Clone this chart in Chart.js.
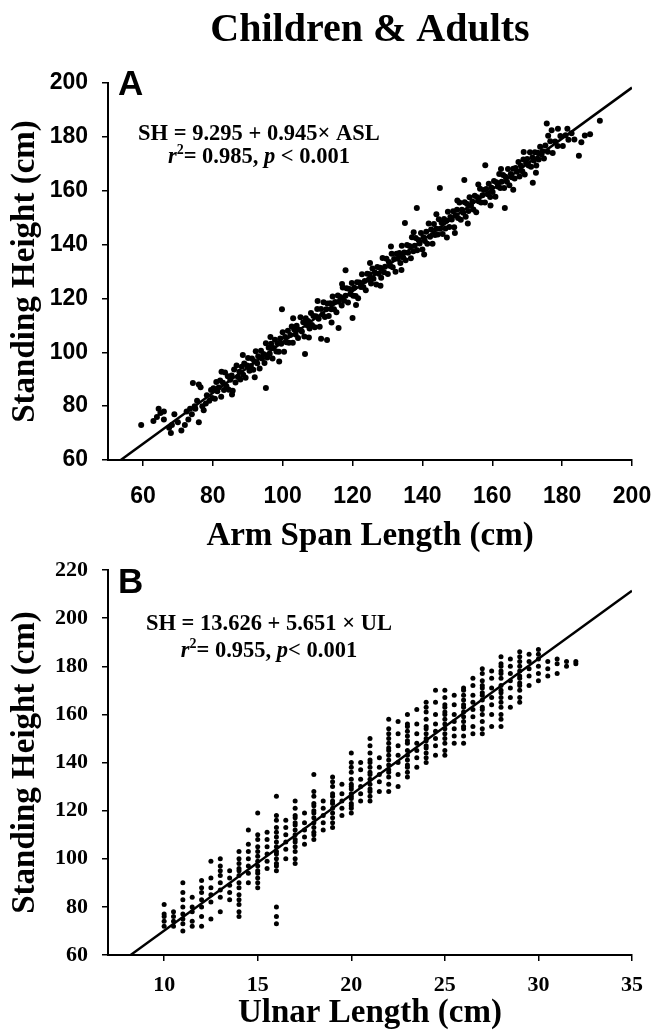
<!DOCTYPE html>
<html>
<head>
<meta charset="utf-8">
<script src="https://cdn.jsdelivr.net/npm/chart.js@4.4.1/dist/chart.umd.min.js"></script>
<style>
  body { margin: 0; background: #fff; }
  canvas { display: block; }
</style>
</head>
<body>
<canvas id="panelA" width="656" height="556"></canvas>
<canvas id="panelB" width="656" height="480"></canvas>
<script>
// Panel A: arm span length (cm), standing height (cm)
const armSpanHeight = [
  // shortest children
  [59.5,73],[63,74.5],[64,76],[64.5,79],[65,77.5],[66,78],[66,75],[67.5,72],[68,70],[68.3,73],
  [69,77],[70,74],[71,71],[72,73],[72.5,78],[73,75],[73.5,79],[74,77],[74.3,88.6],[74.8,80],
  [75,79],[75.5,82],[76,74],[76,88],[76.5,87],[77,80],[77.4,78.5],[78,81],[78.3,84],[79,82],
  [79.5,86],[79.8,83],
  // main band
  [80.2,86.6],[80.6,82.7],[81.0,89.0],[81.3,85.5],[81.7,86.9],[82.1,89.5],[82.4,83.5],[82.9,88.7],
  [83.2,86.0],[83.5,92.5],[83.9,87.4],[84.3,91.1],[84.6,86.1],[85.0,89.8],[85.4,91.4],[85.7,85.7],
  [86.1,93.6],[86.5,88.8],[86.8,95.1],[87.2,90.8],[87.6,92.8],[87.9,89.9],[88.3,94.6],[88.7,91.7],
  [89.0,95.8],[89.4,90.5],[89.8,95.1],[90.1,97.9],[90.5,93.1],[90.9,94.9],
  [91.2,97.7],[91.6,93.5],[91.9,96.7],[92.3,100.4],[92.7,95.9],[93.0,98.5],[93.4,94.0],[93.8,100.6],
  [94.1,97.7],[94.5,99.4],[94.8,96.0],[95.2,103.4],[95.6,98.1],[96.0,101.7],[96.3,99.5],[96.7,103.2],
  [97.1,97.7],[97.4,101.6],[97.8,104.7],[98.2,100.3],[98.5,103.4],[98.9,100.2],[99.3,105.1],[99.6,103.2],
  [100.0,107.4],[100.4,100.2],[100.7,105.7],[101.1,103.7],[101.5,108.0],[101.8,103.5],
  [102.2,106.4],[102.6,109.6],[102.9,103.5],[103.3,108.5],[103.7,106.6],[104.0,109.9],[104.4,105.3],
  [104.8,108.4],[105.1,113.0],[105.5,107.7],[105.9,111.2],[106.2,105.9],[106.6,112.6],[107.0,110.0],
  [107.3,111.6],[107.7,108.8],[108.1,114.6],[108.4,110.1],[108.8,113.5],[109.2,109.3],[109.5,113.4],
  [109.9,116.1],[110.3,112.5],[110.6,109.5],[111.0,116.1],[111.4,114.0],[111.7,118.6],[112.1,113.1],
  [112.5,116.0],[112.8,118.1],
  [113.2,113.5],[113.6,118.2],[113.9,116.0],[114.3,120.7],[114.7,116.0],[115.0,118.7],[115.4,114.9],
  [115.8,121.1],[116.1,118.8],[116.5,120.5],[116.9,117.4],[117.2,124.1],[117.6,119.1],[118.0,121.0],
  [118.3,123.8],[118.7,118.5],[119.1,123.5],[119.4,121.6],[119.8,125.7],[120.2,121.0],[120.5,124.0],
  [120.9,120.9],[121.3,126.0],[121.6,120.1],[122.0,125.9],[122.4,124.2],[122.7,129.0],[123.1,124.2],
  [123.5,126.5],[123.8,123.0],
  [124.2,129.2],[124.6,126.9],[124.9,129.0],[125.3,125.5],[125.7,131.1],[126.0,127.3],[126.4,129.6],
  [126.8,125.2],[127.1,131.7],[127.5,129.2],[127.9,131.4],[128.2,127.7],[128.6,135.0],[129.0,129.7],
  [129.3,131.8],[129.7,134.7],[130.1,129.1],[130.4,133.5],[130.8,132.0],[131.2,136.6],[131.5,131.6],
  [131.9,134.6],[132.3,129.9],[132.6,136.6],[133.0,134.7],[133.4,136.9],[133.7,133.2],[134.1,139.6],
  [134.5,135.2],[134.8,137.1],
  [135.2,134.2],[135.6,139.8],[135.9,137.0],[136.3,139.5],[136.7,134.9],[137.0,142.7],[137.4,137.5],
  [137.8,139.6],[138.1,142.4],[138.5,137.9],[138.9,141.7],[139.2,140.4],[139.6,144.3],[140.0,138.2],
  [140.3,142.7],[140.7,141.3],[141.1,144.8],[141.4,140.3],[141.8,147.8],[142.2,142.9],[142.5,145.6],
  [142.9,140.3],[143.3,147.6],[143.6,143.6],[144.0,145.9],[144.4,143.7],[144.7,149.4],[145.1,145.9],
  [145.5,148.1],[145.8,143.9],
  [146.2,149.5],[146.6,146.0],[146.9,148.8],[147.3,152.2],[147.7,146.5],[148.0,150.2],[148.4,149.3],
  [148.8,152.4],[149.1,146.4],[149.5,150.9],[149.9,152.9],[150.2,149.9],[150.6,155.6],[151.0,149.2],
  [151.3,152.9],[151.7,151.8],[152.1,155.7],[152.4,150.3],[152.8,155.1],[153.2,152.5],[153.5,157.6],
  [153.9,154.4],[154.3,156.0],[154.6,153.0],[155.0,158.1],[155.4,152.0],[155.7,157.6],[156.1,156.1],
  [156.5,160.7],[156.8,155.6],
  [157.2,158.3],[157.6,160.3],[157.9,155.6],[158.3,160.6],[158.7,158.7],[159.0,162.6],[159.4,157.7],
  [159.8,161.1],[160.1,159.5],[160.5,163.6],[160.9,157.8],[161.2,163.1],[161.6,161.6],[162.0,166.2],
  [162.3,161.0],[162.7,163.3],[163.1,165.8],[163.4,161.0],[163.8,165.2],[164.2,163.3],[164.5,168.1],
  [164.9,162.0],[165.3,166.2],[165.6,165.0],[166.0,168.2],[166.4,164.5],[166.7,168.4],[167.1,167.0],
  [167.5,170.7],[167.8,165.3],
  [168.2,169.3],[168.6,167.2],[168.9,171.6],[169.3,166.0],[169.7,170.2],[170.0,171.8],[170.4,169.4],
  [170.8,174.3],[171.1,168.9],[171.5,172.3],[171.9,171.2],[172.2,174.3],[172.6,169.4],[173.0,174.1],
  [173.3,171.6],[173.7,176.3],[174.1,173.5],[174.4,174.7],[174.8,172.0],[175.2,176.8],[175.9,174.5],
  [176.6,178.4],[177.3,174.0],[178.0,178.3],[178.7,176.6],[179.5,180.3],[180.2,176.6],[181.0,180.6],
  [181.8,178.9],[182.7,181.3],
  // wider scatter
  [82.5,92.8],[85.5,84.3],[88.6,99.0],[92.0,90.7],[96.5,105.7],[99.0,96.6],[103.0,112.6],[107.5,105.5],
  [110.0,119.0],[114.0,111.1],[117.0,125.4],[121.0,117.6],[125.0,133.2],[128.0,124.7],[131.0,139.3],
  [134.0,130.6],[137.5,144.6],[140.5,136.3],[144.0,151.3],[147.0,142.6],[150.0,156.4],[153.0,147.8],
  [156.0,162.3],[159.5,154.5],[162.5,168.1],[166.0,160.4],[169.0,174.4],[172.5,166.7],[176.0,180.4],
  // outliers and tallest adults
  [95.2,86.7],[99.8,116],[106.4,99.4],[111,105],[112.7,104.6],[116,109],[118,130.5],[120,112.7],
  [135,148],[138.4,153.6],[145,161],[149.3,144.3],[152,164],[158,169.5],[163.6,153.6],[171.6,163],
  [175.6,185],[178.8,183],[184.8,173],[183.5,179],[185.5,178],[186.5,180.5],[188,181],[190.8,186],
  [181.5,183],[177,182.5]
];

// Panel B: ulnar length (cm) columns and the standing heights (cm) measured at each
const ulnarLength = [10,10.5,11,11.5,12,12.5,13,13.5,14,14.5,15,15.5,16,16.5,17,17.5,18,18.5,19,19.5,
  20,20.5,21,21.5,22,22.5,23,23.5,24,24.5,25,25.5,26,26.5,27,27.5,28,28.5,29,29.5,30,30.5,31,31.5,32];
const heightsB = [
  [72,74,76,77,81],
  [72,74,76,78],
  [70,73,75,77,80,83,86,90],
  [72,74,78,80,84],
  [72,76,80,83,86,88,91],
  [75,82,85,88,92,99],
  [78,84,87,90,93,95,97,100],
  [83,86,89,92,95],
  [76,78,81,83,85,88,90,93,95,96,98,100,103],
  [90,94,97,100,103,106,112],
  [88,90,92,94,95,97,99,101,103,105,108,110,119],
  [96,99,102,105,108,111],
  [73,76,80,95,97,98,100,102,103,105,107,109,111,113,116,118,126],
  [100,104,107,110,113,116],
  [98,100,103,105,107,108,110,112,114,115,117,118,121,124],
  [106,109,112,115,119],
  [108,110,111,113,115,117,119,120,122,123,126,128,135],
  [112,115,118,121,124],
  [113,115,117,119,121,123,124,126,127,130,132,134],
  [118,121,124,127,131],
  [119,121,122,123,125,126,127,129,130,131,133,136,138,140,144],
  [124,127,130,133,137,140],
  [124,126,128,129,131,133,135,136,138,140,141,144,147,150],
  [128,132,135,138,142],
  [128,131,134,136,137,139,141,143,145,146,148,150,152,154,158],
  [130,135,140,143,147,152,157],
  [134,136,138,139,141,143,145,148,149,151,153,155,156,160],
  [138,142,145,148,152,156,162],
  [140,142,144,146,147,149,150,152,154,155,158,161,163,165],
  [143,147,150,153,156,160,165,170],
  [143,145,148,150,152,154,156,158,160,161,163,164,167,170],
  [148,151,154,157,160,164,168],
  [148,151,154,155,157,159,161,163,164,166,168,170,171],
  [152,155,159,162,165,168,172,175],
  [152,154,157,160,162,163,166,168,169,171,172,174,177,179],
  [155,160,164,167,171,175,178],
  [155,158,160,163,165,167,169,170,172,175,177,178,180,181,184],
  [163,167,171,174,177,180,183],
  [165,167,170,172,173,175,176,178,180,182,184,186],
  [172,176,179,182,185],
  [174,177,180,183,185,187],
  [176,179,182],
  [177,181,183],
  [180,182],
  [181,182]
];

// tick labels
const ticksAx = [60, 80, 100, 120, 140, 160, 180, 200];
const ticksBx = [10, 15, 20, 25, 30, 35];

// regression lines as printed on the figure
const fitA = { intercept: 9.295, slope: 0.945, from: 53.66, to: 200 };
const fitB = { intercept: 13.626, slope: 5.651, from: 8.21, to: 35 };

const serif = 'Liberation Serif';
const sans = 'Liberation Sans';

function lineData(f) {
  return [f.from, f.to].map(x => ({ x: x, y: f.intercept + f.slope * x }));
}

function drawRuns(ctx, runs, cx, cy, size) {
  const fontFor = r => (r.i ? 'italic ' : '') + 'bold ' + (r.sup ? Math.round(size * 0.6) : size) + 'px "' + serif + '"';
  let w = 0;
  runs.forEach(r => { ctx.font = fontFor(r); w += ctx.measureText(r.t).width; });
  let x = cx - w / 2;
  ctx.textAlign = 'left';
  ctx.textBaseline = 'middle';
  runs.forEach(r => {
    ctx.font = fontFor(r);
    ctx.fillText(r.t, x, r.sup ? cy - size * 0.3 : cy);
    x += ctx.measureText(r.t).width;
  });
}

// draws panel letter, equation and (for A) the figure title
const annotations = {
  id: 'annotations',
  afterDraw(chart, args, opts) {
    const ctx = chart.ctx, xs = chart.scales.x, ys = chart.scales.y, area = chart.chartArea;
    ctx.save();
    ctx.fillStyle = '#000';
    if (opts.title) {
      ctx.font = 'bold 40px "' + serif + '"';
      ctx.textAlign = 'center';
      ctx.textBaseline = 'alphabetic';
      ctx.fillText(opts.title, (area.left + area.right) / 2, 41);
    }
    ctx.font = 'bold 35px "' + sans + '"';
    ctx.textAlign = 'left';
    ctx.textBaseline = 'alphabetic';
    ctx.fillText(opts.letter, area.left + 10, area.top + opts.letterDy);
    opts.lines.forEach(l => {
      drawRuns(ctx, l.runs, xs.getPixelForValue(l.x), ys.getPixelForValue(l.y), opts.size);
    });
    ctx.restore();
  }
};

function panel(id, cfg) {
  new Chart(document.getElementById(id), {
    type: 'scatter',
    data: {
      datasets: [{
        data: cfg.points,
        backgroundColor: '#000',
        borderColor: '#000',
        pointRadius: cfg.dot,
        pointBorderWidth: 0
      }, {
        type: 'line',
        data: cfg.fit,
        borderColor: '#000',
        borderWidth: 2.5,
        pointRadius: 0,
        fill: false
      }]
    },
    options: {
      responsive: false,
      animation: false,
      layout: { padding: { top: cfg.padTop, right: 24, left: 0, bottom: 0 } },
      plugins: {
        legend: { display: false },
        tooltip: { enabled: false },
        annotations: cfg.notes
      },
      scales: {
        x: {
          type: 'linear',
          min: cfg.xMin,
          max: cfg.xMax,
          afterBuildTicks: s => { s.ticks = cfg.xTicks.map(v => ({ value: v })); },
          afterFit: s => { s.height = cfg.xAxisH; s.paddingLeft = 0; s.paddingRight = 0; },
          grid: { drawOnChartArea: false, drawTicks: true, tickLength: 6, color: '#000', lineWidth: 1.5 },
          border: { display: true, color: '#000', width: 2 },
          ticks: { color: '#000', padding: cfg.xTickPad, maxRotation: 0, font: { family: cfg.tickFont, weight: 'bold', size: cfg.tickSize } },
          title: { display: true, text: cfg.xTitle, color: '#000', padding: { top: 0, bottom: cfg.xTitlePad }, font: { family: serif, weight: 'bold', size: 33 } }
        },
        y: {
          min: cfg.yMin,
          max: cfg.yMax,
          afterFit: s => { s.width = 108; s.paddingTop = 0; s.paddingBottom = 0; },
          grid: { drawOnChartArea: false, drawTicks: true, tickLength: 6, color: '#000', lineWidth: 1.5 },
          border: { display: true, color: '#000', width: 2 },
          ticks: { stepSize: 20, color: '#000', padding: 14, font: { family: cfg.tickFont, weight: 'bold', size: cfg.tickSize } },
          title: { display: true, text: 'Standing Height (cm)', color: '#000', padding: { top: 6, bottom: 0 }, font: { family: serif, weight: 'bold', size: 33 } }
        }
      }
    },
    plugins: [annotations]
  });
}

panel('panelA', {
  points: armSpanHeight.map(p => ({ x: p[0], y: p[1] })),
  fit: lineData(fitA), dot: 3,
  padTop: 83, xMin: 50, xMax: 200, yMin: 60, yMax: 200,
  xTicks: ticksAx, xAxisH: 96, xTickPad: 17, xTitlePad: 0,
  tickFont: sans, tickSize: 23, xTitle: 'Arm Span Length (cm)',
  notes: {
    title: 'Children & Adults', letter: 'A', letterDy: 12, size: 22.5,
    lines: [
      { x: 93.2, y: 181, runs: [{ t: 'SH = 9.295 + 0.945× ASL' }] },
      { x: 93.2, y: 172.5, runs: [{ t: 'r', i: true }, { t: '2', sup: true }, { t: '= 0.985, ' }, { t: 'p', i: true }, { t: ' < 0.001' }] }
    ]
  }
});

const ulnarPoints = [];
ulnarLength.forEach((u, i) => heightsB[i].forEach(h => ulnarPoints.push({ x: u, y: h })));

panel('panelB', {
  points: ulnarPoints,
  fit: lineData(fitB), dot: 2.5,
  padTop: 14, xMin: 7, xMax: 35, yMin: 60, yMax: 220,
  xTicks: ticksBx, xAxisH: 81, xTickPad: 11, xTitlePad: 3,
  tickFont: serif, tickSize: 22, xTitle: 'Ulnar Length (cm)',
  notes: {
    letter: 'B', letterDy: 23, size: 22.5,
    lines: [
      { x: 15.6, y: 197.6, runs: [{ t: 'SH = 13.626 + 5.651 × UL' }] },
      { x: 15.6, y: 186.4, runs: [{ t: 'r', i: true }, { t: '2', sup: true }, { t: '= 0.955, ' }, { t: 'p', i: true }, { t: '< 0.001' }] }
    ]
  }
});
</script>
</body>
</html>
